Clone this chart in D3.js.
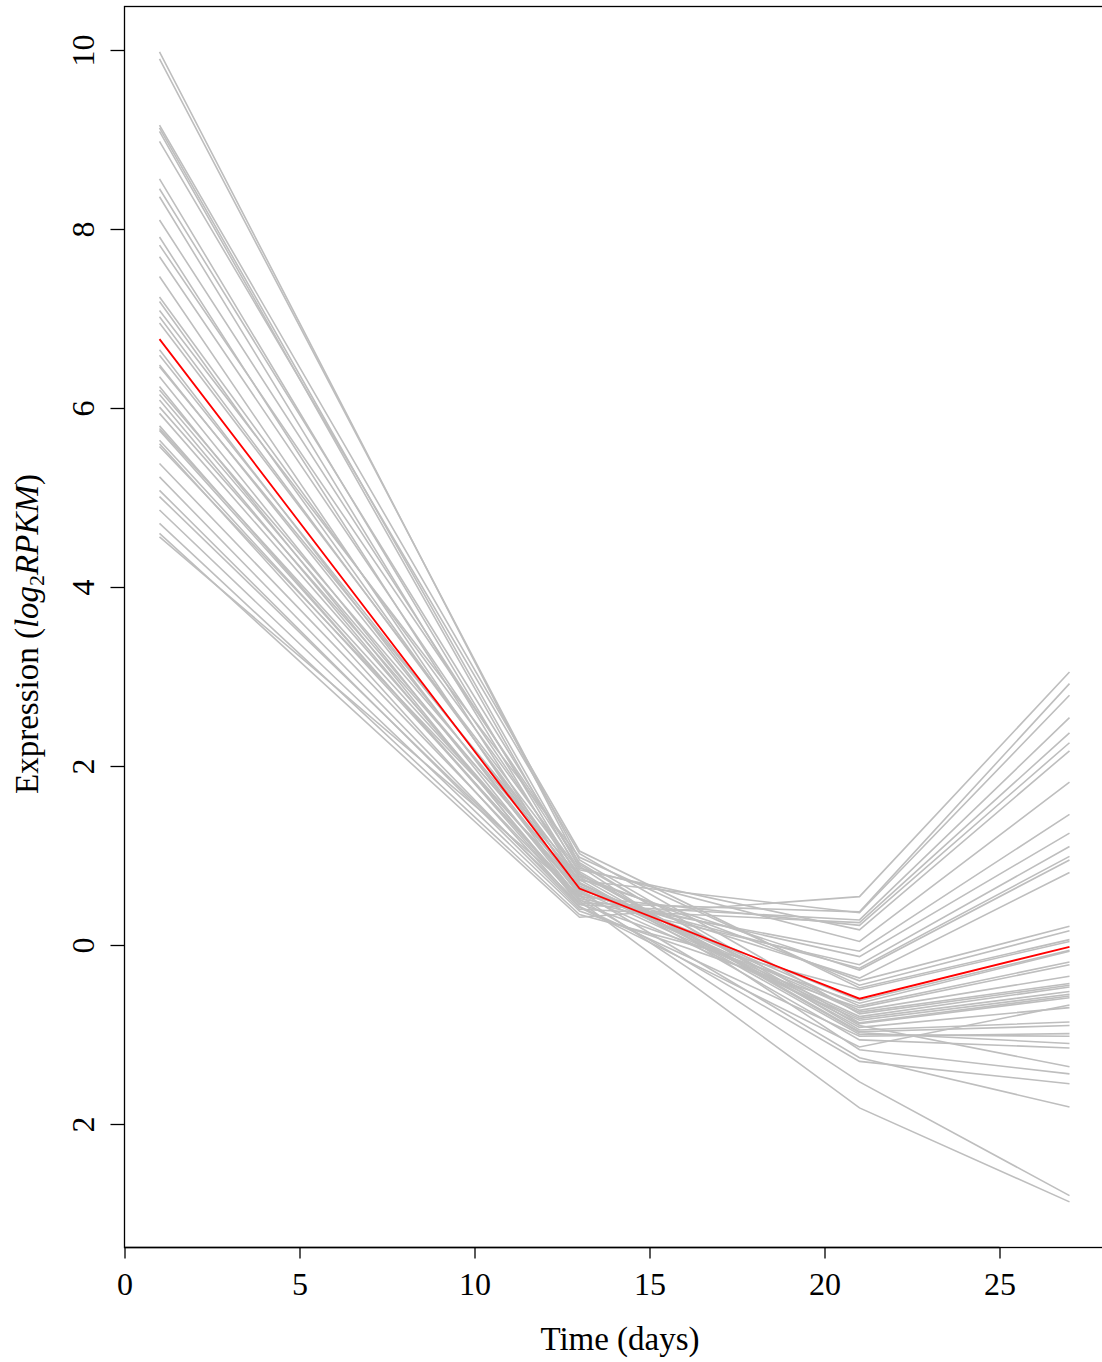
<!DOCTYPE html>
<html>
<head>
<meta charset="utf-8">
<script src="https://cdn.jsdelivr.net/npm/d3@7"></script>
<style>
  body { margin: 0; background: #fff; }
  text { font-family: "Liberation Serif", "DejaVu Serif", serif; fill: #000; }
</style>
</head>
<body>
<svg width="1102" height="1362"></svg>
<script>
var svg = d3.select("svg"),
    width = +svg.attr("width"),
    height = +svg.attr("height");

// sampling days
var days = [1, 13, 21, 27];

// expression per gene, one array per day (same gene order)
var day1  = [9.98,9.90,9.16,9.13,9.09,8.98,8.56,8.45,8.36,8.10,7.91,7.82,7.69,7.47,7.24,7.19,7.09,7.02,6.95,6.65,6.59,6.48,6.46,6.35,6.24,6.20,6.15,6.09,6.01,5.94,5.80,5.77,5.75,5.64,5.60,5.57,5.38,5.23,5.08,5.01,4.86,4.71,4.60,4.56];
var day13 = [0.90,0.95,1.05,0.86,0.80,1.02,0.74,0.88,0.69,0.84,0.60,0.92,0.77,0.57,0.82,0.66,0.98,0.72,0.79,0.55,0.70,0.62,0.76,0.52,0.45,0.73,0.64,0.49,0.68,0.58,0.47,0.61,0.51,0.54,0.43,0.65,0.50,0.42,0.40,0.46,0.38,0.34,0.31,0.56];
var day21 = [-0.90,-0.87,-0.48,0.04,-0.98,-0.77,-0.28,-1.17,-0.73,0.17,-1.26,-0.95,-0.40,-0.13,-0.97,-0.62,-0.45,0.36,-0.92,-1.53,-0.88,-0.37,-1.00,-0.07,0.28,-1.06,-0.80,-1.82,-0.68,-0.26,0.37,-0.82,-1.30,0.22,-1.02,-0.75,-0.22,-1.14,0.25,-0.65,-0.70,-0.50,0.54,-0.84];
var day27 = [-1.36,-0.57,0.06,1.82,-1.10,-0.45,0.95,-1.44,-0.35,2.17,-1.81,-0.86,0.21,1.25,-0.90,-0.06,0.16,2.79,-0.70,-2.80,-0.59,0.81,-1.02,1.46,2.54,-1.15,-0.47,-2.87,-0.19,0.99,2.92,-0.52,-1.55,2.26,-0.99,-0.43,1.10,-0.67,2.37,-0.07,-0.22,0.04,3.05,-0.55];

// the highlighted (mean) profile
var highlight = [6.77, 0.63, -0.60, -0.02];

var xTicks = [0, 5, 10, 15, 20, 25];
var yTicks = [-2, 0, 2, 4, 6, 8, 10];

var boxLeft = 124, boxRight = 1102, boxTop = 6, boxBottom = 1247;

var x = d3.scaleLinear().domain([0, 28]).range([124.5, 1104.5]);
var y = d3.scaleLinear().domain([0, 10]).range([945, 50]);

var genes = day1.map((v, i) => [v, day13[i], day21[i], day27[i]]);

var line = d3.line()
  .x((d, i) => x(days[i]))
  .y(d => y(d));

var plot = svg.append("g");

plot.selectAll("path.gene")
  .data(genes)
  .enter()
  .append("path")
  .attr("class", "gene")
  .attr("d", line)
  .attr("fill", "none")
  .attr("stroke", "#bebebe")
  .attr("stroke-width", 1.6);

plot.append("path")
  .attr("d", line(highlight))
  .attr("fill", "none")
  .attr("stroke", "#ff0000")
  .attr("stroke-width", 1.8);

// frame
svg.append("rect")
  .attr("x", boxLeft + 0.5)
  .attr("y", boxTop + 0.5)
  .attr("width", boxRight - boxLeft + 2)
  .attr("height", boxBottom - boxTop)
  .attr("fill", "none")
  .attr("stroke", "#000")
  .attr("stroke-width", 1.3);

// x axis
var xAxis = svg.append("g").attr("transform", "translate(0," + (boxBottom + 0.5) + ")")
  .call(d3.axisBottom(x).tickValues(xTicks).tickSize(11).tickPadding(14).tickFormat(d3.format("d")));
xAxis.select(".domain").attr("d", "M" + x(0) + ",0H" + x(25)).attr("stroke-width", 1.3);
xAxis.selectAll(".tick line").attr("stroke-width", 1.3);
xAxis.selectAll(".tick text").attr("font-size", 32).attr("font-family", "Liberation Serif");

// y axis (labels rotated, minus sign missing as in source)
var yAxis = svg.append("g").attr("transform", "translate(" + (boxLeft + 0.5) + ",0)")
  .call(d3.axisLeft(y).tickValues(yTicks).tickSize(14).tickFormat(d => String(Math.abs(d))));
yAxis.select(".domain").remove();
yAxis.selectAll(".tick line").attr("stroke-width", 1.3);
yAxis.selectAll(".tick text")
  .attr("font-size", 32)
  .attr("font-family", "Liberation Serif")
  .attr("x", null)
  .attr("text-anchor", "middle")
  .attr("transform", "translate(-55,0) rotate(-90)")
  .attr("dy", "0.75em");

// axis titles
svg.append("text")
  .attr("x", 620)
  .attr("y", 1350)
  .attr("text-anchor", "middle")
  .attr("font-size", 33)
  .text("Time (days)");

var yt = svg.append("text")
  .attr("transform", "translate(38,634) rotate(-90)")
  .attr("text-anchor", "middle")
  .attr("font-size", 33);
yt.append("tspan").text("Expression (");
yt.append("tspan").attr("font-style", "italic").text("log");
yt.append("tspan").attr("font-size", 22).attr("dy", 6).text("2");
yt.append("tspan").attr("font-style", "italic").attr("dy", -6).text("RPKM");
yt.append("tspan").text(")");
</script>
</body>
</html>
